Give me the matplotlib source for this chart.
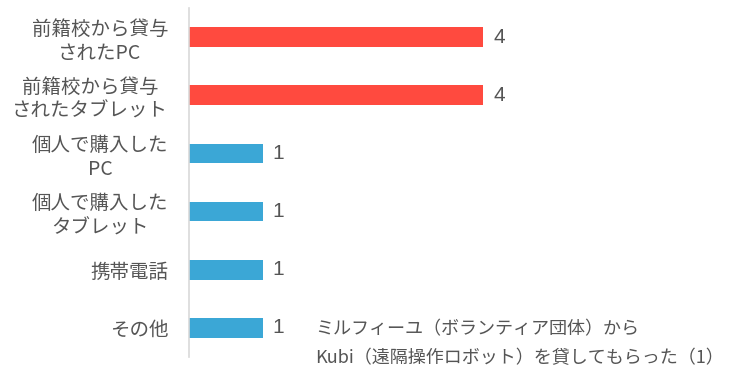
import matplotlib
matplotlib.use("Agg")
import matplotlib.pyplot as plt

plt.rcParams['font.family'] = ['Noto Sans CJK JP', 'DejaVu Sans']

# -------------------------
# Data
# -------------------------
categories = [
    "前籍校から貸与\nされたPC",
    "前籍校から貸与\nされたタブレット",
    "個人で購入した\nPC",
    "個人で購入した\nタブレット",
    "携帯電話",
    "その他",
]
counts = [4, 4, 1, 1, 1, 1]
bar_colors = ['#FF4A3F', '#FF4A3F', '#3BA7D6', '#3BA7D6', '#3BA7D6', '#3BA7D6']
note = "ミルフィーユ（ボランティア団体）から\nKubi（遠隔操作ロボット）を貸してもらった（1）"

text_color = '#555555'

# -------------------------
# Plot
# -------------------------
fig = plt.figure(figsize=(7.52, 3.77), dpi=100)
ax = fig.add_axes([189 / 752, 20 / 377, 563 / 752, 349 / 377])

y = list(range(len(categories)))
ax.barh(y, counts, height=0.34, color=bar_colors)

for yi, v in zip(y, counts):
    ax.text(v + 0.14, yi, str(v), va='center', ha='left',
            fontsize=15, color=text_color, family=['Liberation Sans', 'DejaVu Sans'])

ax.text(1.72, 5.27, note, va='center', ha='left', fontsize=13,
        color=text_color, linespacing=1.75, clip_on=False)

# -------------------------
# Styling
# -------------------------
ax.set_xlim(0, 563 / 73.5)
ax.set_ylim(len(categories) - 0.5, -0.5)

ax.set_yticks(y)
ax.set_yticklabels(categories, fontsize=14, color=text_color, linespacing=1.2)
for t in ax.get_yticklabels():
    t.set_multialignment('center')
ax.tick_params(axis='y', length=0, pad=15)
ax.set_xticks([])

for side in ['top', 'right', 'bottom']:
    ax.spines[side].set_visible(False)
ax.spines['left'].set_color('#D9D9D9')
ax.spines['left'].set_linewidth(1.2)

fig.savefig('out.png', dpi=100)
